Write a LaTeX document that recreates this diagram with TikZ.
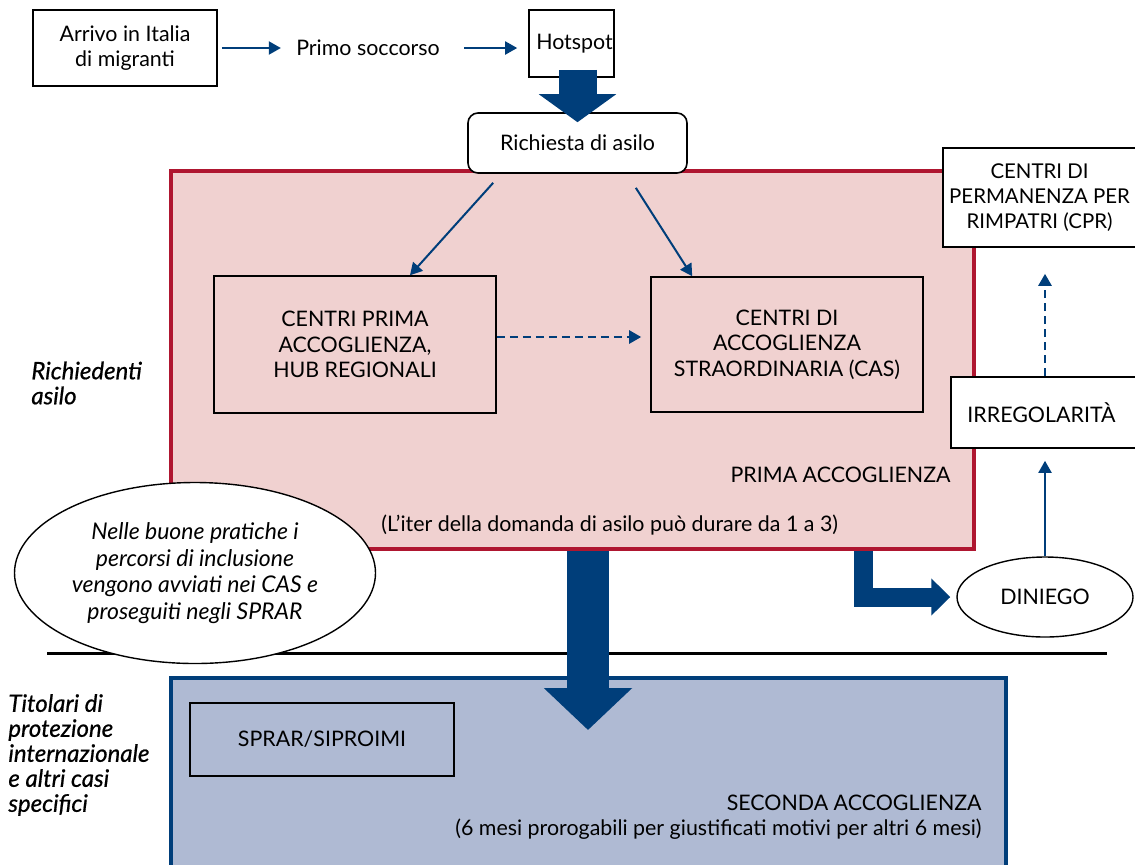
\documentclass[tikz,border=0pt]{standalone}
\usepackage{fontspec}
\setmainfont{Lato}
\newfontfamily\sidefont[FakeBold=0.7]{Lato}
\usetikzlibrary{arrows.meta,shapes.geometric}

\definecolor{redline}{RGB}{175,22,48}
\definecolor{pinkfill}{RGB}{240,209,208}
\definecolor{bluefill}{RGB}{175,186,211}
\definecolor{navy}{RGB}{0,62,122}

\begin{document}
\begin{tikzpicture}[x=0.5pt, y=-0.5pt,
        every node/.style={font=\fontsize{10.7}{12.7}\selectfont},
        plainbox/.style={draw=black, line width=0.8pt, align=center, inner sep=0pt},
        area/.style={line width=2pt, inner sep=0pt},
        bubble/.style={ellipse, draw=black, line width=0.7pt, fill=white, align=center, inner sep=0pt},
        thin/.style={navy, line width=1pt, -{Triangle[length=6pt, width=6.5pt]}},
        dashline/.style={thin, line width=1.3pt, dash pattern=on 4pt off 2.5pt},
        fat/.style={navy, line width=#1, line join=miter},
        side/.style={font=\sidefont\fontsize{12}{12.5}\selectfont\itshape, align=left, anchor=west, inner sep=0pt}]
    \useasboundingbox (0,0) rectangle (1135,864);
    % background areas
    \node[area, draw=redline, fill=pinkfill, minimum width=401.5pt, minimum height=189pt]
        (prima) at (572.5,360) {};
    \node[area, draw=navy, fill=bluefill, minimum width=417.5pt, minimum height=96pt]
        (seconda) at (588.5,774) {};
    \draw[line width=1.5pt] (47,653) coordinate (lineL) -- (1107,653) coordinate (lineR);
    % top row
    \node[plainbox, minimum width=92pt, minimum height=38pt] (arrivo) at (125,48) {Arrivo in Italia\\di migranti};
    \node[inner sep=7.5pt] (primo) at (368,48) {Primo soccorso};
    \node[plainbox, fill=white, minimum width=42.5pt, minimum height=33.5pt] (hotspot) at (571.5,43.5)
        {\hspace*{3pt}\raisebox{2pt}{Hotspot}};
    \node[plainbox, fill=white, rounded corners=5pt, minimum width=109.5pt, minimum height=30pt]
        (richiesta) at (577.5,143) {Richiesta di asilo};
    % inside prima accoglienza
    \node[plainbox, minimum width=141pt, minimum height=68.5pt] (hub) at (355,344.5)
        {CENTRI PRIMA\\ACCOGLIENZA,\\HUB REGIONALI};
    \node[plainbox, minimum width=136pt, minimum height=67.5pt] (cas) at (787,344.5)
        {CENTRI DI\\ACCOGLIENZA\\STRAORDINARIA (CAS)};
    \node[anchor=east, inner sep=0pt] (primalabel) at (951,475) {PRIMA ACCOGLIENZA};
    \node[anchor=west, inner sep=0pt] (iter) at (381,525) {(L’iter della domanda di asilo può durare da 1 a 3)};
    % right column
    \node[plainbox, fill=white, minimum width=98.5pt, minimum height=49.5pt,
          font=\fontsize{10.2}{12.7}\selectfont] (cpr) at (1041.5,197.5)
        {\hspace*{-2pt}CENTRI DI\\\hspace*{-2pt}PERMANENZA PER\\\hspace*{-2pt}RIMPATRI (CPR)};
    \node[plainbox, fill=white, minimum width=94.5pt, minimum height=35.5pt] (irreg) at (1045.5,412.5)
        {\hspace*{-4pt}IRREGOLARITÀ};
    \node[bubble, minimum width=88pt, minimum height=40pt] (diniego) at (1045,597) {DINIEGO};
    % seconda accoglienza
    \node[plainbox, minimum width=132pt, minimum height=36.5pt] (sprar) at (322,739.5) {SPRAR/SIPROIMI};
    \node[anchor=east, align=right, inner sep=0pt] (secondalabel) at (982,817)
        {SECONDA ACCOGLIENZA\\(6 mesi prorogabili per giustificati motivi per altri 6 mesi)};
    % notes
    \node[bubble, minimum width=180.5pt, minimum height=90.5pt, font=\fontsize{11.5}{13.3}\selectfont\itshape]
        (nota) at (195,573) {Nelle buone pratiche i\\percorsi di inclusione\\vengono avviati nei CAS e\\proseguiti negli SPRAR};
    \node[side] (richiedenti) at (31,383) {Richiedenti\\asilo};
    \node[side] (titolari) at (8,755) {Titolari di\\protezione\\internazionale\\e altri casi\\specifici};

    % connectors
    \draw[thin, shorten <=2pt] (arrivo.east) -- (primo.west);
    \draw[thin, shorten <=4.5pt, shorten >=5.5pt] (primo.east) -- (hotspot.west |- primo.east);
    \draw[fat=19pt, -{Triangle[length=14pt, width=38pt]}]
        ([yshift=4pt]richiesta.north |- hotspot.south) -- ([yshift=-5pt]richiesta.north);
    \draw[thin] ([xshift=13pt, yshift=-4.5pt]richiesta.south west) -- ([xshift=27.5pt]hub.north);
    \draw[thin] ([xshift=-26pt, yshift=-7pt]richiesta.south east) -- ([xshift=21pt]cas.north west);
    \draw[dashline, shorten >=4.5pt] ([yshift=3.75pt]hub.east) -- ([yshift=3.75pt]cas.west);
    \coordinate (downtip) at (588,730);
    \draw[fat=21pt, -{Triangle[length=21pt, width=43pt]}] (downtip |- prima.south) -- (downtip);
    \coordinate (elbow) at (863.5,599.5);
    \draw[fat=9.5pt, -{Triangle[length=9.5pt, width=18pt]}, shorten >=3pt]
        (elbow |- prima.south) |- (diniego.west);
    \draw[thin, shorten >=6pt] (diniego.north) -- (irreg.south -| diniego.north);
    \draw[dashline, shorten >=13pt] (irreg.north -| diniego.north) -- (cpr.south -| diniego.north);
\end{tikzpicture}
\end{document}
